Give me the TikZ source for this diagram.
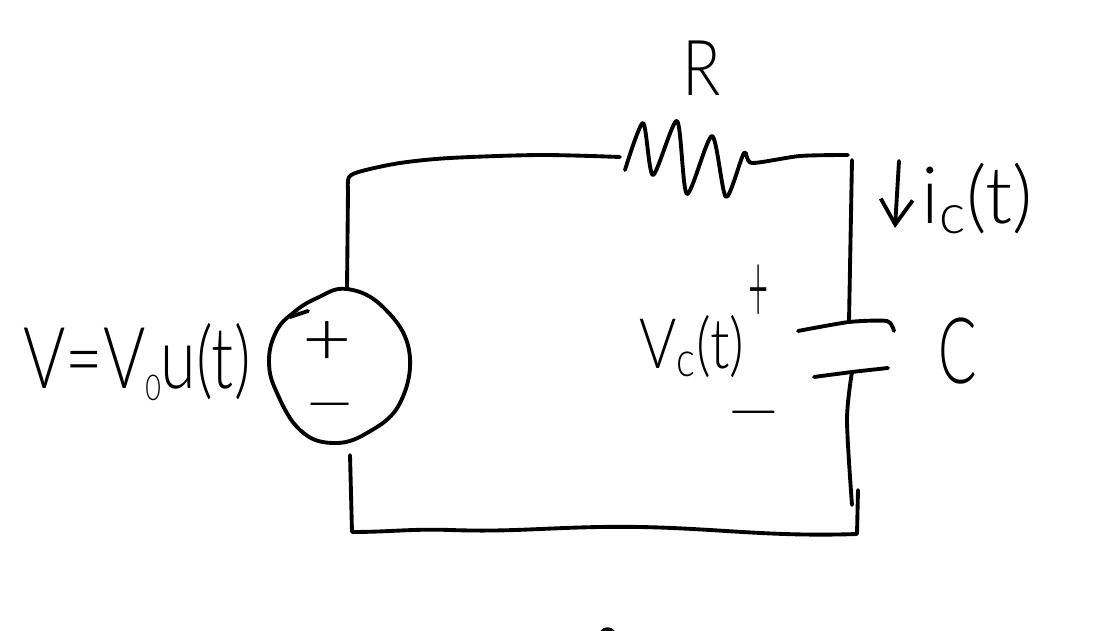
\documentclass[tikz,border=0pt]{standalone}
\usepackage{fontspec}
\setmainfont{Lato}[UprightFont=* Light]
\usepackage{tikz}
\usetikzlibrary{arrows.meta,positioning}
\tikzset{
wire/.style={-,line width=2.2pt,color=black,line cap=round,line join=round},
lbl/.style={draw=none,inner sep=0pt,transform shape,font=\fontsize{36}{40}\selectfont},
}
\newcommand{\subs}[1]{\raisebox{-5pt}{\fontsize{15}{15}\selectfont #1}}

\begin{document}
\begin{tikzpicture}[x=0.02cm,y=-0.02cm]
\useasboundingbox (0,0) rectangle (1120,631);
\coordinate (VT) at (347,289);
\coordinate (VB) at (350,455);
\coordinate (TJ) at (348,190);
\coordinate (TK) at (349,177);
\coordinate (TL) at (362,171);
\coordinate (TM) at (400,163);
\coordinate (TA) at (450,158);
\coordinate (TB) at (540,155);
\coordinate (TC) at (620,157);
\coordinate (RA) at (625,170);
\coordinate (RB) at (643,123);
\coordinate (RC) at (653,175);
\coordinate (RD) at (677,121);
\coordinate (RE) at (687,194);
\coordinate (RF) at (712,136);
\coordinate (RG) at (726,197);
\coordinate (RH) at (744,153);
\coordinate (RI) at (752,163);
\coordinate (RJ) at (800,156);
\coordinate (TR) at (848,155);
\coordinate (CT) at (852,160);
\coordinate (CU) at (849,322);
\coordinate (PA) at (798,331);
\coordinate (PB) at (887,321);
\coordinate (PC) at (894,331);
\coordinate (QA) at (814,377);
\coordinate (QB) at (852,372);
\coordinate (QC) at (888,368);
\coordinate (CD) at (847,420);
\coordinate (CE) at (852,505);
\coordinate (BS) at (858,490);
\coordinate (BR) at (857,534);
\coordinate (BM) at (600,527);
\coordinate (BN) at (450,530);
\coordinate (BL) at (352,532);
\coordinate (AT) at (899,161);
\coordinate (AB) at (895,228);
\coordinate (XA) at (290,317);
\coordinate (XB) at (308,311);
\coordinate (YA) at (602,632);
\coordinate (YB) at (613,632);

\draw[wire] plot[smooth cycle,tension=0.7] coordinates {(VT) (383,307) (409,350) (400,403) (367,433) (332,443) (300,430) (277,393) (269,362) (276,332) (293,313) (317,298)};
\draw[wire] (XA)--(XB);
\node[lbl,xscale=1.35,yscale=1.2] (VP) at (327,344) {+};
\node[lbl,xscale=1.45] (VM) at (330,414) {−};

\draw[wire] (VT)--(TJ);
\draw[wire] plot[smooth,tension=0.5] coordinates {(TJ) (TK) (TL) (TM) (TA) (TB) (TC)};
\draw[wire] plot[smooth,tension=0.45] coordinates {(RA) (RB) (RC) (RD) (RE) (RF) (RG) (RH) (RI) (RJ) (TR)};
\draw[wire] (CT)--(CU);
\draw[wire] plot[smooth,tension=0.4] coordinates {(PA) (CU) (PB) (PC)};
\draw[wire] plot[smooth,tension=0.4] coordinates {(QA) (QB) (QC)};
\draw[wire] plot[smooth,tension=0.5] coordinates {(QB) (CD) (CE)};
\draw[wire] (BS)--(BR) to[out=-178,in=1] (BM) to[out=181,in=-2] (BN) to[out=178,in=0] (BL)--(VB);
\draw[wire,-{Straight Barb[length=5mm,width=6.4mm]}] (AT)--(AB);
\draw[wire] (YA) to[bend left=60] (YB);

\node[lbl,yscale=1.35,xscale=1.02] (VS) at (137,362) {V=V\subs{0}u(t)};
\node[lbl,yscale=1.22] (RL) at (702,68) {R};
\node[lbl,yscale=1.25,xscale=1.25] (IL) at (977,199) {i\textsubscript{c}(t)};
\node[lbl,yscale=1.1,xscale=0.9] (VC) at (692,347) {V\textsubscript{c}(t)};
\node[lbl,yscale=1.6,xscale=0.55] (CP) at (759,294) {+};
\node[lbl,xscale=1.6] (CM) at (754,422) {−};
\node[lbl,yscale=1.45,xscale=0.9] (CL) at (958,351) {C};
\end{tikzpicture}
\end{document}
